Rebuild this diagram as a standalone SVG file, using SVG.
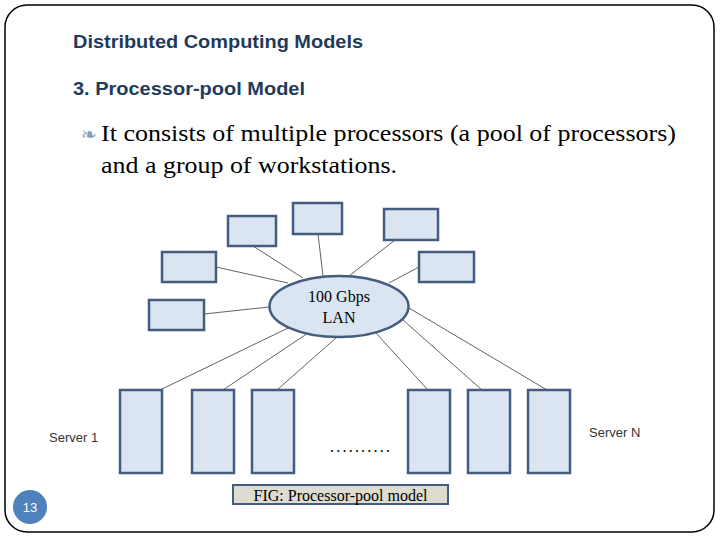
<svg xmlns="http://www.w3.org/2000/svg" width="720" height="540" viewBox="0 0 720 540">
<style>
.box{fill:#dbe5f1;stroke:#435c7f;stroke-width:2.5}
.ln{stroke:#3a3a3a;stroke-width:0.8;fill:none}
.h{font-family:"Liberation Sans",Arial,sans-serif;font-weight:bold;font-size:18px;fill:#1f3b5c}
.t{font-family:"Liberation Serif","Times New Roman",serif;fill:#000}
.s{font-family:"Liberation Sans",Arial,sans-serif;font-size:13px;fill:#333}
</style>
<rect x="5" y="5" width="709" height="527" rx="22" fill="#fff" stroke="#000" stroke-width="1.5"/>
<text class="h" x="73" y="48" textLength="290" lengthAdjust="spacingAndGlyphs">Distributed Computing Models</text>
<text class="h" x="73" y="95" textLength="232" lengthAdjust="spacingAndGlyphs">3. Processor-pool Model</text>
<text x="81" y="141" font-family="DejaVu Sans,sans-serif" font-size="19" fill="#8aa0b8">❧</text>
<text class="t" x="101" y="141" font-size="23" textLength="575" lengthAdjust="spacingAndGlyphs">It consists of multiple processors (a pool of processors)</text>
<text class="t" x="101" y="173" font-size="23" textLength="296" lengthAdjust="spacingAndGlyphs">and a group of workstations.</text>
<g id="connectors">
<line class="ln" x1="253" y1="246" x2="303" y2="278"/>
<line class="ln" x1="318" y1="234" x2="323" y2="276"/>
<line class="ln" x1="395" y1="240" x2="349" y2="276"/>
<line class="ln" x1="419" y1="267" x2="389" y2="283"/>
<line class="ln" x1="216" y1="267" x2="288" y2="283"/>
<line class="ln" x1="204" y1="314" x2="269" y2="307"/>
<line class="ln" x1="288" y1="328" x2="160" y2="390"/>
<line class="ln" x1="308" y1="333" x2="223" y2="390"/>
<line class="ln" x1="337" y1="337" x2="277" y2="390"/>
<line class="ln" x1="375" y1="332" x2="428" y2="390"/>
<line class="ln" x1="403" y1="320" x2="482" y2="390"/>
<line class="ln" x1="409" y1="308" x2="547" y2="390"/>
</g>
<g id="ws1"><rect class="box" x="228" y="216" width="48" height="30"/></g>
<g id="ws2"><rect class="box" x="293" y="203" width="49" height="31"/></g>
<g id="ws3"><rect class="box" x="384" y="209" width="54" height="31"/></g>
<g id="ws4"><rect class="box" x="419" y="252" width="55" height="30"/></g>
<g id="ws5"><rect class="box" x="162" y="252" width="54" height="30"/></g>
<g id="ws6"><rect class="box" x="149" y="300" width="55" height="30"/></g>
<g id="lan">
<ellipse class="box" cx="339" cy="306.5" rx="69.5" ry="30.5"/>
<text class="t" x="339" y="302" font-size="16" text-anchor="middle">100 Gbps</text>
<text class="t" x="339" y="323" font-size="16" text-anchor="middle">LAN</text>
</g>
<g id="s1"><rect class="box" x="120" y="390" width="42" height="83"/></g>
<g id="s2"><rect class="box" x="192" y="390" width="42" height="83"/></g>
<g id="s3"><rect class="box" x="252" y="390" width="42" height="83"/></g>
<g id="s4"><rect class="box" x="408" y="390" width="42" height="83"/></g>
<g id="s5"><rect class="box" x="468" y="390" width="42" height="83"/></g>
<g id="s6"><rect class="box" x="528" y="390" width="42" height="83"/></g>
<text class="s" x="49" y="442">Server 1</text>
<text class="s" x="589" y="437">Server N</text>
<text class="t" x="330" y="452" font-size="16" textLength="60" lengthAdjust="spacing">..........</text>
<g id="caption">
<rect x="233" y="485" width="215" height="19" fill="#dedbd0" stroke="#435c7f" stroke-width="2"/>
<text class="t" x="340.5" y="501" font-size="16" text-anchor="middle">FIG: Processor-pool model</text>
</g>
<g id="page">
<circle cx="30" cy="507" r="17" fill="#4f81bd"/>
<text x="30" y="512" font-family="Liberation Sans,Arial,sans-serif" font-size="13" fill="#fff" text-anchor="middle">13</text>
</g>
</svg>
